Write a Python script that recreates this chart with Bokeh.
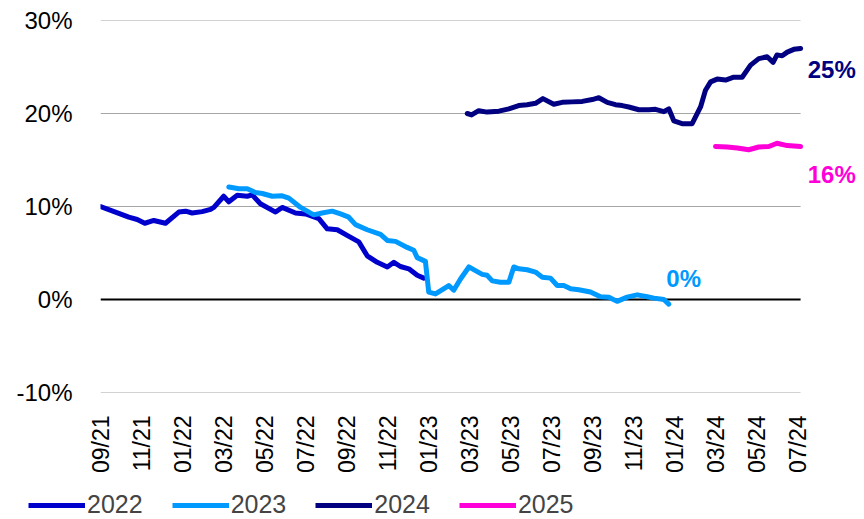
from bokeh.plotting import figure
from bokeh.layouts import column
from bokeh.models import Range1d, FixedTicker, Label, Legend, LegendItem
from bokeh.embed import file_html
from bokeh.resources import INLINE

# x axis: months elapsed since 09/2021
x_tick_pos = list(range(0, 35, 2))
x_tick_labels = ["09/21", "11/21", "01/22", "03/22", "05/22", "07/22", "09/22", "11/22",
                 "01/23", "03/23", "05/23", "07/23", "09/23", "11/23", "01/24", "03/24",
                 "05/24", "07/24"]
x_start, x_end = 0.0, 34.15
y_tick_pos = [-10, 0, 10, 20, 30]
y_tick_labels = ["-10%", "0%", "10%", "20%", "30%"]

m2022 = [0.0, 0.73, 1.38, 1.79, 2.16, 2.6, 3.17, 3.82, 4.15, 4.47, 4.96, 5.37, 5.53, 6.01,
         6.26, 6.67, 7.16, 7.4, 7.8, 8.54, 8.86, 9.51, 10.0, 10.65, 11.06, 11.55, 12.03,
         12.6, 13.01, 13.5, 13.99, 14.31, 14.63, 15.04, 15.45, 15.77]
v2022 = [10.0, 9.4, 8.85, 8.6, 8.2, 8.5, 8.2, 9.4, 9.5, 9.3, 9.45, 9.7, 9.9, 11.1,
         10.5, 11.2, 11.1, 11.25, 10.3, 9.4, 9.9, 9.3, 9.2, 8.7, 7.6, 7.5, 6.9,
         6.2, 4.7, 4.0, 3.5, 4.0, 3.55, 3.3, 2.6, 2.3]

m2023 = [6.26, 6.75, 7.16, 7.56, 7.89, 8.38, 8.86, 9.19, 9.76, 10.4, 10.81, 11.3, 11.71,
         12.11, 12.44, 13.01, 13.66, 13.99, 14.39, 14.96, 15.28, 15.45, 15.85, 16.01,
         16.34, 16.99, 17.23, 17.56, 17.97, 18.29, 18.62, 18.86, 19.11, 19.51, 19.92,
         20.16, 20.4, 20.81, 21.22, 21.55, 21.95, 22.28, 22.6, 22.93, 23.33, 23.9, 24.39,
         24.8, 25.2, 25.69, 26.18, 26.67, 27.0, 27.48, 27.72]
v2023 = [12.1, 11.9, 11.9, 11.5, 11.4, 11.1, 11.15, 10.9, 9.9, 9.1, 9.3, 9.5, 9.2,
         8.85, 8.05, 7.5, 7.0, 6.35, 6.25, 5.6, 5.3, 4.5, 4.1, 0.8,
         0.6, 1.5, 1.0, 2.2, 3.5, 3.1, 2.7, 2.6, 2.0, 1.85, 1.85,
         3.5, 3.3, 3.2, 2.95, 2.4, 2.3, 1.5, 1.5, 1.15, 1.05, 0.8, 0.3,
         0.25, -0.2, 0.25, 0.5, 0.3, 0.15, 0.0, -0.5]

m2024 = [17.89, 18.1, 18.45, 18.86, 19.43, 19.92, 20.4, 20.81, 21.22, 21.58, 22.11, 22.52,
         23.01, 23.5, 23.99, 24.31, 24.72, 25.12, 25.45, 25.77, 26.26, 26.75, 27.07, 27.48,
         27.72, 27.97, 28.37, 28.86, 29.27, 29.51, 29.76, 30.08, 30.49, 30.89, 31.3, 31.71,
         32.11, 32.52, 32.81, 33.0, 33.25, 33.5, 33.82, 34.15]
v2024 = [20.0, 19.85, 20.3, 20.15, 20.25, 20.5, 20.85, 20.95, 21.1, 21.6, 21.0, 21.2,
         21.25, 21.3, 21.5, 21.7, 21.2, 20.95, 20.85, 20.7, 20.4, 20.4, 20.45, 20.2,
         20.5, 19.2, 18.9, 18.9, 20.7, 22.5, 23.4, 23.7, 23.6, 23.9, 23.9, 25.2,
         25.9, 26.1, 25.5, 26.3, 26.2, 26.6, 26.9, 27.0]

m2025 = [30.0, 30.57, 31.06, 31.62, 32.11, 32.6, 33.0, 33.5, 34.15]
v2025 = [16.45, 16.4, 16.3, 16.1, 16.4, 16.45, 16.8, 16.55, 16.45]

series = [
    ("2022", m2022, v2022, "#0000CC"),
    ("2023", m2023, v2023, "#0099FF"),
    ("2024", m2024, v2024, "#000080"),
    ("2025", m2025, v2025, "#FF00D8"),
]

FONT = "Liberation Sans"

p = figure(width=862, height=480, output_backend="svg", toolbar_location=None,
           x_range=Range1d(x_start, 37.17), y_range=Range1d(-10, 30))
p.frame_align = False
p.min_border_left = 100
p.min_border_right = 0
p.min_border_top = 20
p.min_border_bottom = 88
p.outline_line_color = None
p.background_fill_color = "white"
p.border_fill_color = "white"

p.xgrid.visible = False
p.ygrid.visible = False

p.yaxis.ticker = FixedTicker(ticks=y_tick_pos)
p.yaxis.major_label_overrides = {t: l for t, l in zip(y_tick_pos, y_tick_labels)}
p.xaxis.ticker = FixedTicker(ticks=x_tick_pos)
p.xaxis.major_label_overrides = {t: l for t, l in zip(x_tick_pos, x_tick_labels)}
p.xaxis.major_label_orientation = 1.5707963

for ax in (p.xaxis, p.yaxis):
    ax.axis_line_color = None
    ax.major_tick_line_color = None
    ax.minor_tick_line_color = None
    ax.major_label_text_font = FONT
    ax.major_label_text_color = "black"
p.yaxis.major_label_text_font_size = "24px"
p.yaxis.major_label_standoff = 22
p.xaxis.major_label_text_font_size = "23px"
p.xaxis.major_label_standoff = 17

# horizontal gridlines spanning the data period, zero line in black
grid_y = [t for t in y_tick_pos if t != 0]
p.segment(x0=[x_start] * len(grid_y), x1=[x_end] * len(grid_y), y0=grid_y, y1=grid_y,
          line_color="#A6A6A6", line_width=1)
p.segment(x0=[x_start], x1=[x_end], y0=[0], y1=[0], line_color="black", line_width=2)

for name, xs, ys, col in series:
    p.line(xs, ys, line_color=col, line_width=5, line_join="round", line_cap="round")

for txt, lx, ly, col in [("25%", 34.5, 24.7, "#000080"),
                         ("16%", 34.5, 13.4, "#FF00D8"),
                         ("0%", 27.6, 2.25, "#0099FF")]:
    p.add_layout(Label(x=lx, y=ly, text=txt, text_color=col, text_font=FONT,
                       text_font_size="24px", text_font_style="bold",
                       text_baseline="middle", text_align="left"))

# legend strip below the chart
lf = figure(width=862, height=39, output_backend="svg", toolbar_location=None,
            x_range=Range1d(0, 1), y_range=Range1d(0, 1),
            x_axis_location=None, y_axis_location=None)
lf.frame_align = False
lf.min_border = 0
lf.min_border_left = 0
lf.min_border_right = 0
lf.min_border_top = 0
lf.min_border_bottom = 0
lf.outline_line_color = None
lf.grid.visible = False
items = []
for name, xs, ys, col in series:
    r = lf.line(xs, ys, line_color=col, line_width=5, visible=False)
    items.append(LegendItem(label=name, renderers=[r]))
legend = Legend(items=items, orientation="horizontal", location=(28, 0),
                border_line_color=None, background_fill_alpha=0,
                padding=0, margin=0, spacing=29, label_standoff=2,
                glyph_width=57, glyph_height=20, label_height=24,
                label_text_font=FONT, label_text_font_size="25px")
lf.add_layout(legend, "center")

open("out.html", "w").write(file_html(column(p, lf, spacing=0), INLINE))
